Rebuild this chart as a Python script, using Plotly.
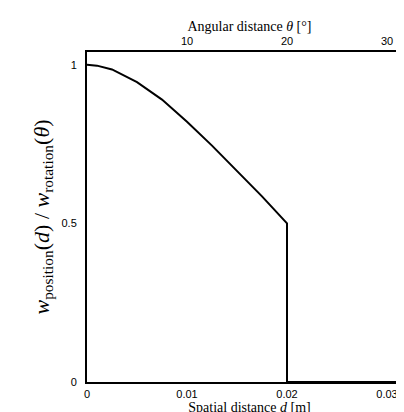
import plotly.graph_objects as go

# curve
d_vals = [0, 0.001, 0.0025, 0.004, 0.005, 0.0075, 0.01, 0.0125, 0.015, 0.0175, 0.02, 0.02, 0.0325]
w_vals = [1.0, 0.997, 0.985, 0.962, 0.945, 0.89, 0.82, 0.745, 0.665, 0.585, 0.5, 0.0, 0.0]

x_ticks = [0, 0.01, 0.02, 0.03]
x_labels = ["0", "0.01", "0.02", "0.03"]
top_ticks = [10, 20, 30]
y_ticks = [0, 0.5, 1]
y_labels = ["0", "0.5", "1"]

fig = go.Figure()
fig.add_trace(go.Scatter(x=d_vals, y=w_vals, mode="lines",
                         line=dict(color="black", width=2), showlegend=False))
# invisible trace to activate top axis
fig.add_trace(go.Scatter(x=[0, 32], y=[0, 0], xaxis="x2", mode="lines",
                         line=dict(width=0), showlegend=False, hoverinfo="skip"))

tickfont = dict(family="Liberation Sans", size=11, color="black")
fig.update_layout(
    width=404, height=412,
    margin=dict(l=79, r=0, t=44, b=38),
    plot_bgcolor="white", paper_bgcolor="white",
    font=dict(family="Liberation Serif", color="black"),
    xaxis=dict(range=[0, 0.0325], tickvals=x_ticks, ticktext=x_labels,
               showline=True, linecolor="black", linewidth=2, showgrid=False,
               zeroline=False, tickfont=tickfont, ticks="outside", ticklen=1,
               tickcolor="white",
               title=dict(text="Spatial distance <i>d</i> [m]", font=dict(size=14), standoff=0)),
    xaxis2=dict(range=[0, 32.5], overlaying="x", side="top", tickvals=top_ticks,
                showline=True, linecolor="black", linewidth=2, showgrid=False,
                zeroline=False, tickfont=tickfont, ticks="outside", ticklen=1,
                tickcolor="white",
                title=dict(text="Angular distance <i>θ</i> [°]", font=dict(size=14), standoff=0)),
    yaxis=dict(range=[0, 1.04], tickvals=y_ticks, ticktext=y_labels,
               showline=True, linecolor="black", linewidth=2, showgrid=False,
               zeroline=False, tickfont=tickfont, ticks="outside", ticklen=6,
               tickcolor="white",
               title=dict(text="<i>w</i><sub>position</sub>(<i>d</i>) / <i>w</i><sub>rotation</sub>(<i>θ</i>)",
                          font=dict(size=22), standoff=6)),
)

fig.write_html("out.html")
